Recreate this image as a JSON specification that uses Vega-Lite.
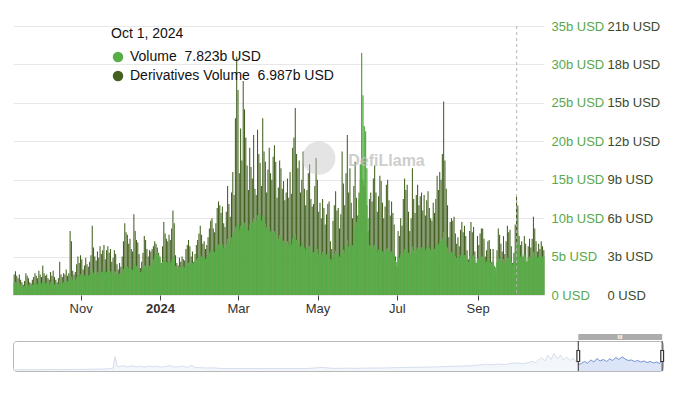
{
  "$schema": "https://vega.github.io/schema/vega-lite/v6.json",
  "padding": {"left": 10, "top": 20, "right": 4, "bottom": 4},
  "spacing": 18,
  "config": {
    "font": "Liberation Sans",
    "view": {"stroke": null},
    "axis": {"labelFont": "Liberation Sans"}
  },
  "datasets": {
    "main": [
      {"date":"2023-09-10","volume":1.6,"derivatives":1.6},{"date":"2023-09-11","volume":1.7,"derivatives":1.85},{"date":"2023-09-12","volume":1.5,"derivatives":1.5},{"date":"2023-09-13","volume":1.4,"derivatives":1.3},{"date":"2023-09-14","volume":1.6,"derivatives":1.6},{"date":"2023-09-15","volume":1.3,"derivatives":1.2},{"date":"2023-09-16","volume":1.1,"derivatives":1.0},{"date":"2023-09-17","volume":1.0,"derivatives":0.8},{"date":"2023-09-18","volume":1.2,"derivatives":1.1},{"date":"2023-09-19","volume":1.6,"derivatives":1.7},{"date":"2023-09-20","volume":1.5,"derivatives":1.5},{"date":"2023-09-21","volume":1.3,"derivatives":1.3},{"date":"2023-09-22","volume":1.1,"derivatives":1.0},{"date":"2023-09-23","volume":1.0,"derivatives":0.9},{"date":"2023-09-24","volume":1.3,"derivatives":1.2},{"date":"2023-09-25","volume":1.4,"derivatives":1.4},{"date":"2023-09-26","volume":1.6,"derivatives":1.7},{"date":"2023-09-27","volume":1.5,"derivatives":1.5},{"date":"2023-09-28","volume":1.4,"derivatives":1.3},{"date":"2023-09-29","volume":1.7,"derivatives":1.9},{"date":"2023-09-30","volume":1.6,"derivatives":1.6},
      {"date":"2023-10-01","volume":1.5,"derivatives":1.4},{"date":"2023-10-02","volume":1.9,"derivatives":2.3},{"date":"2023-10-03","volume":1.6,"derivatives":1.7},{"date":"2023-10-04","volume":1.5,"derivatives":1.5},{"date":"2023-10-05","volume":1.6,"derivatives":1.6},{"date":"2023-10-06","volume":1.4,"derivatives":1.3},{"date":"2023-10-07","volume":1.3,"derivatives":1.2},{"date":"2023-10-08","volume":1.7,"derivatives":1.8},{"date":"2023-10-09","volume":1.5,"derivatives":1.5},{"date":"2023-10-10","volume":1.7,"derivatives":1.9},{"date":"2023-10-11","volume":1.4,"derivatives":1.4},{"date":"2023-10-12","volume":1.3,"derivatives":1.2},{"date":"2023-10-13","volume":1.2,"derivatives":1.0},{"date":"2023-10-14","volume":1.4,"derivatives":1.3},{"date":"2023-10-15","volume":2.0,"derivatives":2.6},{"date":"2023-10-16","volume":1.6,"derivatives":1.6},{"date":"2023-10-17","volume":1.5,"derivatives":1.4},{"date":"2023-10-18","volume":1.7,"derivatives":1.7},{"date":"2023-10-19","volume":1.7,"derivatives":1.6},{"date":"2023-10-20","volume":1.9,"derivatives":2.0},{"date":"2023-10-21","volume":1.8,"derivatives":1.5},{"date":"2023-10-22","volume":1.9,"derivatives":1.7},{"date":"2023-10-23","volume":2.6,"derivatives":5.0},{"date":"2023-10-24","volume":2.4,"derivatives":4.2},{"date":"2023-10-25","volume":2.0,"derivatives":1.9},{"date":"2023-10-26","volume":1.9,"derivatives":1.6},{"date":"2023-10-27","volume":2.0,"derivatives":1.8},{"date":"2023-10-28","volume":2.3,"derivatives":2.4},{"date":"2023-10-29","volume":2.6,"derivatives":3.0},{"date":"2023-10-30","volume":2.4,"derivatives":2.5},{"date":"2023-10-31","volume":2.7,"derivatives":3.1},
      {"date":"2023-11-01","volume":2.6,"derivatives":2.8},{"date":"2023-11-02","volume":2.3,"derivatives":2.0},{"date":"2023-11-03","volume":2.5,"derivatives":2.3},{"date":"2023-11-04","volume":2.7,"derivatives":2.9},{"date":"2023-11-05","volume":2.6,"derivatives":2.4},{"date":"2023-11-06","volume":2.5,"derivatives":2.2},{"date":"2023-11-07","volume":2.6,"derivatives":2.6},{"date":"2023-11-08","volume":2.8,"derivatives":3.1},{"date":"2023-11-09","volume":3.3,"derivatives":5.4},{"date":"2023-11-10","volume":2.9,"derivatives":3.7},{"date":"2023-11-11","volume":2.8,"derivatives":3.0},{"date":"2023-11-12","volume":2.7,"derivatives":2.7},{"date":"2023-11-13","volume":3.0,"derivatives":3.4},{"date":"2023-11-14","volume":2.8,"derivatives":2.9},{"date":"2023-11-15","volume":3.2,"derivatives":3.8},{"date":"2023-11-16","volume":3.0,"derivatives":3.2},{"date":"2023-11-17","volume":3.1,"derivatives":3.5},{"date":"2023-11-18","volume":3.3,"derivatives":3.9},{"date":"2023-11-19","volume":2.9,"derivatives":2.8},{"date":"2023-11-20","volume":3.0,"derivatives":3.5},{"date":"2023-11-21","volume":3.2,"derivatives":3.8},{"date":"2023-11-22","volume":3.0,"derivatives":3.3},{"date":"2023-11-23","volume":3.1,"derivatives":3.6},{"date":"2023-11-24","volume":2.8,"derivatives":2.6},{"date":"2023-11-25","volume":2.9,"derivatives":2.9},{"date":"2023-11-26","volume":3.1,"derivatives":3.5},{"date":"2023-11-27","volume":3.0,"derivatives":3.2},{"date":"2023-11-28","volume":2.7,"derivatives":2.4},{"date":"2023-11-29","volume":2.6,"derivatives":2.0},{"date":"2023-11-30","volume":2.8,"derivatives":2.5},
      {"date":"2023-12-01","volume":2.8,"derivatives":2.2},{"date":"2023-12-02","volume":3.0,"derivatives":3.0},{"date":"2023-12-03","volume":3.4,"derivatives":4.2},{"date":"2023-12-04","volume":3.8,"derivatives":5.6},{"date":"2023-12-05","volume":3.6,"derivatives":4.9},{"date":"2023-12-06","volume":3.7,"derivatives":4.7},{"date":"2023-12-07","volume":3.5,"derivatives":4.0},{"date":"2023-12-08","volume":3.6,"derivatives":4.4},{"date":"2023-12-09","volume":3.4,"derivatives":3.6},{"date":"2023-12-10","volume":3.3,"derivatives":3.4},{"date":"2023-12-11","volume":4.3,"derivatives":6.3},{"date":"2023-12-12","volume":4.0,"derivatives":5.0},{"date":"2023-12-13","volume":3.8,"derivatives":4.3},{"date":"2023-12-14","volume":3.7,"derivatives":4.1},{"date":"2023-12-15","volume":3.4,"derivatives":3.2},{"date":"2023-12-16","volume":3.0,"derivatives":2.1},{"date":"2023-12-17","volume":3.1,"derivatives":2.6},{"date":"2023-12-18","volume":3.4,"derivatives":3.3},{"date":"2023-12-19","volume":3.9,"derivatives":4.6},{"date":"2023-12-20","volume":3.8,"derivatives":4.3},{"date":"2023-12-21","volume":3.6,"derivatives":3.6},{"date":"2023-12-22","volume":3.5,"derivatives":3.0},{"date":"2023-12-23","volume":3.8,"derivatives":3.5},{"date":"2023-12-24","volume":3.9,"derivatives":3.4},{"date":"2023-12-25","volume":4.2,"derivatives":3.6},{"date":"2023-12-26","volume":4.6,"derivatives":3.8},{"date":"2023-12-27","volume":5.0,"derivatives":4.2},{"date":"2023-12-28","volume":5.3,"derivatives":4.0},{"date":"2023-12-29","volume":5.6,"derivatives":3.7},{"date":"2023-12-30","volume":5.2,"derivatives":3.3},{"date":"2023-12-31","volume":4.8,"derivatives":3.0},
      {"date":"2024-01-01","volume":4.0,"derivatives":2.5},{"date":"2024-01-02","volume":4.3,"derivatives":3.8},{"date":"2024-01-03","volume":4.8,"derivatives":5.7},{"date":"2024-01-04","volume":4.5,"derivatives":4.8},{"date":"2024-01-05","volume":4.3,"derivatives":4.4},{"date":"2024-01-06","volume":4.2,"derivatives":4.2},{"date":"2024-01-07","volume":4.4,"derivatives":4.7},{"date":"2024-01-08","volume":4.2,"derivatives":4.3},{"date":"2024-01-09","volume":4.5,"derivatives":5.2},{"date":"2024-01-10","volume":5.0,"derivatives":6.6},{"date":"2024-01-11","volume":4.7,"derivatives":5.6},{"date":"2024-01-12","volume":3.8,"derivatives":3.1},{"date":"2024-01-13","volume":3.5,"derivatives":2.5},{"date":"2024-01-14","volume":3.5,"derivatives":2.3},{"date":"2024-01-15","volume":3.7,"derivatives":2.9},{"date":"2024-01-16","volume":3.6,"derivatives":2.6},{"date":"2024-01-17","volume":3.8,"derivatives":3.0},{"date":"2024-01-18","volume":3.7,"derivatives":2.8},{"date":"2024-01-19","volume":3.6,"derivatives":2.7},{"date":"2024-01-20","volume":3.9,"derivatives":3.6},{"date":"2024-01-21","volume":4.1,"derivatives":3.9},{"date":"2024-01-22","volume":4.2,"derivatives":4.3},{"date":"2024-01-23","volume":4.1,"derivatives":3.8},{"date":"2024-01-24","volume":3.9,"derivatives":3.0},{"date":"2024-01-25","volume":4.2,"derivatives":3.4},{"date":"2024-01-26","volume":4.0,"derivatives":2.6},{"date":"2024-01-27","volume":4.4,"derivatives":3.2},{"date":"2024-01-28","volume":4.6,"derivatives":3.9},{"date":"2024-01-29","volume":4.8,"derivatives":4.3},{"date":"2024-01-30","volume":5.0,"derivatives":4.8},{"date":"2024-01-31","volume":5.3,"derivatives":5.4},
      {"date":"2024-02-01","volume":5.0,"derivatives":4.7},{"date":"2024-02-02","volume":4.8,"derivatives":4.0},{"date":"2024-02-03","volume":4.9,"derivatives":4.2},{"date":"2024-02-04","volume":4.7,"derivatives":3.6},{"date":"2024-02-05","volume":4.9,"derivatives":3.9},{"date":"2024-02-06","volume":5.2,"derivatives":4.5},{"date":"2024-02-07","volume":5.5,"derivatives":5.2},{"date":"2024-02-08","volume":5.8,"derivatives":5.8},{"date":"2024-02-09","volume":6.0,"derivatives":6.0},{"date":"2024-02-10","volume":5.7,"derivatives":5.2},{"date":"2024-02-11","volume":5.6,"derivatives":4.9},{"date":"2024-02-12","volume":5.9,"derivatives":5.6},{"date":"2024-02-13","volume":6.4,"derivatives":6.8},{"date":"2024-02-14","volume":6.6,"derivatives":7.3},{"date":"2024-02-15","volume":6.5,"derivatives":7.0},{"date":"2024-02-16","volume":6.3,"derivatives":6.4},{"date":"2024-02-17","volume":6.6,"derivatives":6.9},{"date":"2024-02-18","volume":6.1,"derivatives":5.6},{"date":"2024-02-19","volume":6.0,"derivatives":5.3},{"date":"2024-02-20","volume":6.6,"derivatives":6.5},{"date":"2024-02-21","volume":7.3,"derivatives":8.5},{"date":"2024-02-22","volume":7.0,"derivatives":7.1},{"date":"2024-02-23","volume":6.8,"derivatives":6.1},{"date":"2024-02-24","volume":7.5,"derivatives":8.0},{"date":"2024-02-25","volume":8.0,"derivatives":9.6},{"date":"2024-02-26","volume":7.8,"derivatives":7.8},{"date":"2024-02-27","volume":8.8,"derivatives":13.8},{"date":"2024-02-28","volume":9.0,"derivatives":18.6},{"date":"2024-02-29","volume":9.3,"derivatives":16.0},
      {"date":"2024-03-01","volume":8.5,"derivatives":9.5},{"date":"2024-03-02","volume":9.0,"derivatives":13.0},{"date":"2024-03-03","volume":8.7,"derivatives":10.5},{"date":"2024-03-04","volume":9.6,"derivatives":16.7},{"date":"2024-03-05","volume":9.4,"derivatives":14.5},{"date":"2024-03-06","volume":9.0,"derivatives":12.3},{"date":"2024-03-07","volume":8.7,"derivatives":10.1},{"date":"2024-03-08","volume":8.4,"derivatives":8.2},{"date":"2024-03-09","volume":9.2,"derivatives":11.5},{"date":"2024-03-10","volume":9.3,"derivatives":10.0},{"date":"2024-03-11","volume":9.5,"derivatives":9.1},{"date":"2024-03-12","volume":10.0,"derivatives":12.5},{"date":"2024-03-13","volume":9.4,"derivatives":8.3},{"date":"2024-03-14","volume":9.6,"derivatives":7.8},{"date":"2024-03-15","volume":10.4,"derivatives":12.9},{"date":"2024-03-16","volume":10.6,"derivatives":11.0},{"date":"2024-03-17","volume":10.2,"derivatives":10.3},{"date":"2024-03-18","volume":9.7,"derivatives":8.5},{"date":"2024-03-19","volume":10.3,"derivatives":13.8},{"date":"2024-03-20","volume":9.8,"derivatives":11.2},{"date":"2024-03-21","volume":9.3,"derivatives":10.4},{"date":"2024-03-22","volume":8.8,"derivatives":8.0},{"date":"2024-03-23","volume":8.6,"derivatives":9.8},{"date":"2024-03-24","volume":8.9,"derivatives":11.5},{"date":"2024-03-25","volume":8.3,"derivatives":9.5},{"date":"2024-03-26","volume":8.0,"derivatives":9.0},{"date":"2024-03-27","volume":8.2,"derivatives":10.8},{"date":"2024-03-28","volume":8.3,"derivatives":11.7},{"date":"2024-03-29","volume":7.9,"derivatives":10.4},{"date":"2024-03-30","volume":7.2,"derivatives":7.6},{"date":"2024-03-31","volume":7.4,"derivatives":8.4},
      {"date":"2024-04-01","volume":7.8,"derivatives":10.5},{"date":"2024-04-02","volume":7.5,"derivatives":9.9},{"date":"2024-04-03","volume":7.0,"derivatives":8.3},{"date":"2024-04-04","volume":7.1,"derivatives":8.9},{"date":"2024-04-05","volume":6.6,"derivatives":7.4},{"date":"2024-04-06","volume":6.8,"derivatives":8.0},{"date":"2024-04-07","volume":7.0,"derivatives":9.1},{"date":"2024-04-08","volume":6.5,"derivatives":7.6},{"date":"2024-04-09","volume":7.0,"derivatives":9.6},{"date":"2024-04-10","volume":6.6,"derivatives":7.9},{"date":"2024-04-11","volume":7.4,"derivatives":11.5},{"date":"2024-04-12","volume":7.6,"derivatives":12.3},{"date":"2024-04-13","volume":8.0,"derivatives":14.6},{"date":"2024-04-14","volume":7.2,"derivatives":11.0},{"date":"2024-04-15","volume":6.9,"derivatives":9.9},{"date":"2024-04-16","volume":7.0,"derivatives":10.5},{"date":"2024-04-17","volume":6.3,"derivatives":8.0},{"date":"2024-04-18","volume":6.5,"derivatives":9.0},{"date":"2024-04-19","volume":6.9,"derivatives":11.2},{"date":"2024-04-20","volume":6.2,"derivatives":8.3},{"date":"2024-04-21","volume":5.9,"derivatives":7.0},{"date":"2024-04-22","volume":6.1,"derivatives":8.2},{"date":"2024-04-23","volume":6.3,"derivatives":9.5},{"date":"2024-04-24","volume":6.4,"derivatives":10.2},{"date":"2024-04-25","volume":5.7,"derivatives":7.5},{"date":"2024-04-26","volume":5.5,"derivatives":6.9},{"date":"2024-04-27","volume":5.6,"derivatives":7.1},{"date":"2024-04-28","volume":5.8,"derivatives":8.5},{"date":"2024-04-29","volume":6.3,"derivatives":10.7},{"date":"2024-04-30","volume":6.0,"derivatives":9.0},
      {"date":"2024-05-01","volume":5.4,"derivatives":6.5},{"date":"2024-05-02","volume":5.5,"derivatives":7.2},{"date":"2024-05-03","volume":5.2,"derivatives":6.0},{"date":"2024-05-04","volume":5.6,"derivatives":7.5},{"date":"2024-05-05","volume":5.4,"derivatives":6.8},{"date":"2024-05-06","volume":5.0,"derivatives":5.5},{"date":"2024-05-07","volume":5.3,"derivatives":6.3},{"date":"2024-05-08","volume":5.5,"derivatives":7.1},{"date":"2024-05-09","volume":5.6,"derivatives":7.3},{"date":"2024-05-10","volume":4.7,"derivatives":4.2},{"date":"2024-05-11","volume":4.5,"derivatives":3.6},{"date":"2024-05-12","volume":5.0,"derivatives":5.8},{"date":"2024-05-13","volume":5.4,"derivatives":7.0},{"date":"2024-05-14","volume":5.8,"derivatives":8.1},{"date":"2024-05-15","volume":5.3,"derivatives":6.6},{"date":"2024-05-16","volume":5.4,"derivatives":6.8},{"date":"2024-05-17","volume":5.0,"derivatives":5.2},{"date":"2024-05-18","volume":5.2,"derivatives":6.3},{"date":"2024-05-19","volume":6.4,"derivatives":11.2},{"date":"2024-05-20","volume":5.9,"derivatives":8.7},{"date":"2024-05-21","volume":5.6,"derivatives":7.0},{"date":"2024-05-22","volume":6.2,"derivatives":9.5},{"date":"2024-05-23","volume":7.2,"derivatives":12.5},{"date":"2024-05-24","volume":6.3,"derivatives":8.0},{"date":"2024-05-25","volume":6.8,"derivatives":9.9},{"date":"2024-05-26","volume":6.4,"derivatives":7.2},{"date":"2024-05-27","volume":6.5,"derivatives":6.0},{"date":"2024-05-28","volume":7.6,"derivatives":8.5},{"date":"2024-05-29","volume":8.8,"derivatives":10.4},{"date":"2024-05-30","volume":9.5,"derivatives":7.6},{"date":"2024-05-31","volume":10.0,"derivatives":6.2},
      {"date":"2024-06-01","volume":12.5,"derivatives":8.0},{"date":"2024-06-02","volume":17.0,"derivatives":9.0},{"date":"2024-06-03","volume":31.5,"derivatives":10.0},{"date":"2024-06-04","volume":26.0,"derivatives":9.0},{"date":"2024-06-05","volume":22.0,"derivatives":8.5},{"date":"2024-06-06","volume":21.3,"derivatives":8.0},{"date":"2024-06-07","volume":16.5,"derivatives":7.0},{"date":"2024-06-08","volume":10.0,"derivatives":5.0},{"date":"2024-06-09","volume":6.5,"derivatives":7.5},{"date":"2024-06-10","volume":6.4,"derivatives":8.0},{"date":"2024-06-11","volume":6.0,"derivatives":7.3},{"date":"2024-06-12","volume":6.4,"derivatives":9.1},{"date":"2024-06-13","volume":6.6,"derivatives":10.1},{"date":"2024-06-14","volume":6.0,"derivatives":8.0},{"date":"2024-06-15","volume":5.6,"derivatives":6.5},{"date":"2024-06-16","volume":5.9,"derivatives":7.7},{"date":"2024-06-17","volume":6.2,"derivatives":9.3},{"date":"2024-06-18","volume":6.1,"derivatives":8.9},{"date":"2024-06-19","volume":5.7,"derivatives":7.2},{"date":"2024-06-20","volume":5.4,"derivatives":6.0},{"date":"2024-06-21","volume":5.6,"derivatives":6.9},{"date":"2024-06-22","volume":6.0,"derivatives":8.6},{"date":"2024-06-23","volume":6.1,"derivatives":9.0},{"date":"2024-06-24","volume":5.8,"derivatives":7.4},{"date":"2024-06-25","volume":5.5,"derivatives":6.2},{"date":"2024-06-26","volume":5.7,"derivatives":7.3},{"date":"2024-06-27","volume":5.5,"derivatives":6.4},{"date":"2024-06-28","volume":5.2,"derivatives":5.5},{"date":"2024-06-29","volume":4.5,"derivatives":3.0},{"date":"2024-06-30","volume":4.3,"derivatives":2.2},
      {"date":"2024-07-01","volume":5.0,"derivatives":5.0},{"date":"2024-07-02","volume":4.9,"derivatives":4.6},{"date":"2024-07-03","volume":5.3,"derivatives":6.0},{"date":"2024-07-04","volume":5.2,"derivatives":5.4},{"date":"2024-07-05","volume":5.6,"derivatives":7.5},{"date":"2024-07-06","volume":6.0,"derivatives":9.1},{"date":"2024-07-07","volume":5.9,"derivatives":8.2},{"date":"2024-07-08","volume":6.0,"derivatives":8.6},{"date":"2024-07-09","volume":5.5,"derivatives":6.5},{"date":"2024-07-10","volume":5.2,"derivatives":5.0},{"date":"2024-07-11","volume":5.4,"derivatives":6.0},{"date":"2024-07-12","volume":6.3,"derivatives":9.9},{"date":"2024-07-13","volume":5.8,"derivatives":7.5},{"date":"2024-07-14","volume":5.6,"derivatives":6.4},{"date":"2024-07-15","volume":6.0,"derivatives":7.8},{"date":"2024-07-16","volume":6.2,"derivatives":8.6},{"date":"2024-07-17","volume":5.9,"derivatives":7.0},{"date":"2024-07-18","volume":6.1,"derivatives":7.7},{"date":"2024-07-19","volume":6.2,"derivatives":8.0},{"date":"2024-07-20","volume":5.9,"derivatives":6.6},{"date":"2024-07-21","volume":6.3,"derivatives":7.8},{"date":"2024-07-22","volume":5.9,"derivatives":6.2},{"date":"2024-07-23","volume":6.2,"derivatives":7.4},{"date":"2024-07-24","volume":6.4,"derivatives":8.1},{"date":"2024-07-25","volume":6.1,"derivatives":6.8},{"date":"2024-07-26","volume":5.9,"derivatives":6.0},{"date":"2024-07-27","volume":5.8,"derivatives":5.8},{"date":"2024-07-28","volume":6.2,"derivatives":7.2},{"date":"2024-07-29","volume":6.0,"derivatives":6.4},{"date":"2024-07-30","volume":6.4,"derivatives":7.5},{"date":"2024-07-31","volume":6.8,"derivatives":9.3},
      {"date":"2024-08-01","volume":6.6,"derivatives":8.2},{"date":"2024-08-02","volume":7.0,"derivatives":9.6},{"date":"2024-08-03","volume":7.0,"derivatives":9.0},{"date":"2024-08-04","volume":7.4,"derivatives":11.0},{"date":"2024-08-05","volume":8.2,"derivatives":15.1},{"date":"2024-08-06","volume":7.2,"derivatives":10.5},{"date":"2024-08-07","volume":6.6,"derivatives":8.3},{"date":"2024-08-08","volume":6.2,"derivatives":7.0},{"date":"2024-08-09","volume":5.4,"derivatives":4.5},{"date":"2024-08-10","volume":5.6,"derivatives":5.7},{"date":"2024-08-11","volume":5.6,"derivatives":6.0},{"date":"2024-08-12","volume":5.5,"derivatives":5.8},{"date":"2024-08-13","volume":5.6,"derivatives":6.1},{"date":"2024-08-14","volume":5.1,"derivatives":4.8},{"date":"2024-08-15","volume":4.8,"derivatives":4.0},{"date":"2024-08-16","volume":5.0,"derivatives":4.5},{"date":"2024-08-17","volume":4.8,"derivatives":3.8},{"date":"2024-08-18","volume":5.2,"derivatives":5.1},{"date":"2024-08-19","volume":5.4,"derivatives":5.7},{"date":"2024-08-20","volume":5.1,"derivatives":4.9},{"date":"2024-08-21","volume":5.2,"derivatives":5.4},{"date":"2024-08-22","volume":5.0,"derivatives":4.6},{"date":"2024-08-23","volume":4.6,"derivatives":3.5},{"date":"2024-08-24","volume":4.3,"derivatives":2.8},{"date":"2024-08-25","volume":5.1,"derivatives":5.0},{"date":"2024-08-26","volume":5.3,"derivatives":5.7},{"date":"2024-08-27","volume":5.0,"derivatives":4.9},{"date":"2024-08-28","volume":5.2,"derivatives":5.3},{"date":"2024-08-29","volume":4.5,"derivatives":3.4},{"date":"2024-08-30","volume":4.2,"derivatives":2.5},{"date":"2024-08-31","volume":4.8,"derivatives":4.6},
      {"date":"2024-09-01","volume":4.6,"derivatives":3.9},{"date":"2024-09-02","volume":4.9,"derivatives":4.8},{"date":"2024-09-03","volume":5.0,"derivatives":5.2},{"date":"2024-09-04","volume":5.0,"derivatives":5.2},{"date":"2024-09-05","volume":4.7,"derivatives":4.4},{"date":"2024-09-06","volume":4.2,"derivatives":3.0},{"date":"2024-09-07","volume":4.4,"derivatives":3.5},{"date":"2024-09-08","volume":4.6,"derivatives":4.2},{"date":"2024-09-09","volume":4.6,"derivatives":4.3},{"date":"2024-09-10","volume":4.3,"derivatives":3.6},{"date":"2024-09-11","volume":4.0,"derivatives":2.6},{"date":"2024-09-12","volume":4.3,"derivatives":3.6},{"date":"2024-09-13","volume":3.8,"derivatives":2.0},{"date":"2024-09-14","volume":3.6,"derivatives":1.6},{"date":"2024-09-15","volume":4.3,"derivatives":3.5},{"date":"2024-09-16","volume":4.9,"derivatives":5.2},{"date":"2024-09-17","volume":4.7,"derivatives":4.7},{"date":"2024-09-18","volume":4.5,"derivatives":4.0},{"date":"2024-09-19","volume":4.3,"derivatives":3.4},{"date":"2024-09-20","volume":4.7,"derivatives":4.6},{"date":"2024-09-21","volume":4.2,"derivatives":3.2},{"date":"2024-09-22","volume":4.5,"derivatives":4.2},{"date":"2024-09-23","volume":4.9,"derivatives":5.4},{"date":"2024-09-24","volume":4.8,"derivatives":4.9},{"date":"2024-09-25","volume":4.9,"derivatives":5.1},{"date":"2024-09-26","volume":4.4,"derivatives":3.8},{"date":"2024-09-27","volume":4.0,"derivatives":2.5},{"date":"2024-09-28","volume":4.3,"derivatives":3.3},{"date":"2024-09-29","volume":5.5,"derivatives":5.5},{"date":"2024-09-30","volume":6.8,"derivatives":7.7},
      {"date":"2024-10-01","volume":7.823,"derivatives":6.987},{"date":"2024-10-02","volume":5.6,"derivatives":4.6},{"date":"2024-10-03","volume":5.0,"derivatives":3.9},{"date":"2024-10-04","volume":5.2,"derivatives":4.2},{"date":"2024-10-05","volume":4.6,"derivatives":3.0},{"date":"2024-10-06","volume":5.3,"derivatives":4.6},{"date":"2024-10-07","volume":5.0,"derivatives":4.0},{"date":"2024-10-08","volume":4.4,"derivatives":2.6},{"date":"2024-10-09","volume":4.8,"derivatives":3.8},{"date":"2024-10-10","volume":5.0,"derivatives":4.4},{"date":"2024-10-11","volume":4.7,"derivatives":3.7},{"date":"2024-10-12","volume":5.0,"derivatives":4.4},{"date":"2024-10-13","volume":5.6,"derivatives":6.1},{"date":"2024-10-14","volume":5.4,"derivatives":5.2},{"date":"2024-10-15","volume":5.0,"derivatives":4.2},{"date":"2024-10-16","volume":4.8,"derivatives":3.4},{"date":"2024-10-17","volume":5.0,"derivatives":4.0},{"date":"2024-10-18","volume":4.9,"derivatives":3.6},{"date":"2024-10-19","volume":5.1,"derivatives":4.2},{"date":"2024-10-20","volume":5.0,"derivatives":3.8},{"date":"2024-10-21","volume":5.0,"derivatives":3.5}
    ],
    "history": [
      {"date":"2016-03-01","value":1.2},{"date":"2016-05-01","value":1.4},{"date":"2016-07-01","value":1.3},{"date":"2016-09-01","value":1.5},{"date":"2016-11-01","value":1.4},{"date":"2017-01-01","value":1.6},{"date":"2017-03-01","value":1.7},{"date":"2017-05-01","value":1.9},{"date":"2017-06-15","value":2.3},{"date":"2017-07-01","value":3.0},{"date":"2017-07-10","value":14.5},{"date":"2017-07-20","value":5.0},{"date":"2017-08-01","value":4.2},{"date":"2017-08-20","value":5.5},{"date":"2017-09-10","value":4.0},{"date":"2017-10-01","value":5.2},{"date":"2017-10-20","value":4.1},{"date":"2017-11-10","value":4.8},{"date":"2017-12-01","value":3.9},{"date":"2017-12-20","value":5.0},{"date":"2018-01-10","value":4.2},{"date":"2018-02-01","value":4.8},{"date":"2018-02-20","value":3.8},{"date":"2018-03-15","value":4.6},{"date":"2018-04-05","value":5.4},{"date":"2018-04-25","value":4.0},{"date":"2018-05-15","value":4.3},{"date":"2018-06-05","value":5.0},{"date":"2018-06-25","value":3.6},{"date":"2018-07-15","value":5.6},{"date":"2018-08-05","value":3.5},{"date":"2018-09-01","value":3.3},{"date":"2018-10-01","value":3.0},{"date":"2018-11-01","value":3.2},{"date":"2018-12-01","value":2.6},{"date":"2019-02-01","value":2.4},{"date":"2019-04-01","value":2.5},{"date":"2019-06-01","value":2.3},{"date":"2019-08-01","value":2.5},{"date":"2019-10-01","value":2.4},{"date":"2019-12-01","value":2.6},{"date":"2020-02-01","value":2.5},{"date":"2020-04-15","value":3.6},{"date":"2020-06-01","value":2.6},{"date":"2020-08-01","value":2.8},{"date":"2020-10-01","value":2.7},{"date":"2020-12-01","value":3.0},{"date":"2021-02-01","value":3.0},{"date":"2021-04-01","value":3.3},{"date":"2021-06-01","value":3.6},{"date":"2021-08-01","value":3.8},{"date":"2021-10-01","value":4.0},{"date":"2021-12-01","value":4.4},{"date":"2022-02-01","value":4.8},{"date":"2022-04-01","value":5.2},{"date":"2022-05-15","value":6.0},{"date":"2022-06-15","value":6.8},{"date":"2022-07-15","value":6.2},{"date":"2022-08-15","value":7.0},{"date":"2022-09-15","value":6.5},{"date":"2022-10-15","value":7.4},{"date":"2022-11-15","value":8.2},{"date":"2022-12-15","value":7.2},{"date":"2023-01-15","value":8.6},{"date":"2023-02-01","value":9.5},{"date":"2023-02-15","value":8.4},{"date":"2023-03-01","value":11.0},{"date":"2023-03-15","value":13.5},{"date":"2023-04-01","value":10.2},{"date":"2023-04-15","value":15.8},{"date":"2023-05-01","value":11.5},{"date":"2023-05-15","value":17.5},{"date":"2023-06-01","value":12.0},{"date":"2023-06-15","value":16.0},{"date":"2023-07-01","value":11.0},{"date":"2023-07-15","value":14.0},{"date":"2023-08-01","value":10.5},{"date":"2023-08-15","value":13.0},{"date":"2023-09-01","value":9.0},{"date":"2023-09-10","value":6.5},{"date":"2023-09-25","value":7.5},{"date":"2023-10-10","value":9.5},{"date":"2023-10-25","value":7.8},{"date":"2023-11-10","value":11.0},{"date":"2023-11-25","value":9.0},{"date":"2023-12-10","value":12.5},{"date":"2023-12-25","value":10.0},{"date":"2024-01-10","value":11.5},{"date":"2024-01-25","value":9.5},{"date":"2024-02-10","value":12.0},{"date":"2024-02-25","value":10.5},{"date":"2024-03-10","value":13.5},{"date":"2024-03-25","value":11.5},{"date":"2024-04-10","value":14.0},{"date":"2024-04-25","value":12.0},{"date":"2024-05-10","value":10.5},{"date":"2024-05-25","value":11.0},{"date":"2024-06-10","value":9.5},{"date":"2024-06-25","value":10.5},{"date":"2024-07-10","value":9.0},{"date":"2024-07-25","value":10.0},{"date":"2024-08-10","value":8.5},{"date":"2024-08-25","value":9.5},{"date":"2024-09-10","value":8.0},{"date":"2024-09-25","value":9.0},{"date":"2024-10-10","value":7.5},{"date":"2024-10-21","value":10.5}
    ],
    "handles": [{"date":"2023-09-10"},{"date":"2024-10-22"}],
    "window": [{"start":"2023-09-10","end":"2024-10-22","mid":"2024-03-31"}],
    "marker": [{"date":"2024-10-01"}],
    "brand": [{"name":"DefiLlama"}]
  },
  "vconcat": [
    {
      "width": 531,
      "height": 269,
      "data": {"name": "main"},
      "layer": [
        {
          "mark": {"type": "bar", "binSpacing": 0.25},
          "encoding": {
            "x": {
              "field": "date", "timeUnit": "utcyearmonthdate", "type": "temporal", "title": null,
              "scale": {"type": "utc", "nice": false, "domain": [{"year":2023,"month":9,"date":10,"utc":true},{"year":2024,"month":10,"date":22,"utc":true}]},
              "axis": {
                "tickCount": {"interval": "month", "step": 2},
                "labelExpr": "utcmonth(datum.value) == 0 ? utcFormat(datum.value, '%Y') : utcFormat(datum.value, '%b')",
                "labelFontWeight": {"condition": {"test": "utcmonth(datum.value) == 0", "value": "bold"}, "value": "normal"},
                "labelFontSize": 13, "labelColor": "#333333", "labelPadding": 2,
                "domain": false, "grid": false, "ticks": true, "tickSize": 5, "tickColor": "#444444", "labelFlush": false
              }
            },
            "y": {
              "field": "derivatives", "type": "quantitative", "title": null,
              "scale": {"domain": [0, 21], "nice": false},
              "axis": {
                "orient": "right", "offset": 56, "values": [0,3,6,9,12,15,18,21],
                "labelExpr": "datum.value == 0 ? '0 USD' : datum.value + 'b USD'",
                "grid": false, "domain": false, "ticks": false, "labelPadding": 7, "labelOverlap": false,
                "labelFontSize": 13, "labelColor": "#3c4a2c", "labelFlush": false
              }
            },
            "color": {
              "datum": "Derivatives Volume",
              "scale": {"domain": ["Volume", "Derivatives Volume"], "range": ["#57ad46", "#42611f"]},
              "legend": {
                "title": "Oct 1, 2024", "orient": "none", "legendX": 98, "legendY": 1,
                "symbolType": "circle", "symbolSize": 110, "symbolStrokeWidth": 0, "symbolOpacity": 1,
                "titleFontSize": 14, "titleFontWeight": "normal", "titleColor": "#111111", "titlePadding": 9,
                "labelFontSize": 14, "labelColor": "#111111", "labelOffset": 5, "rowPadding": 5, "labelLimit": 400,
                "labelExpr": "datum.label == 'Volume' ? 'Volume\u00a0\u00a07.823b USD' : 'Derivatives Volume\u00a0\u00a06.987b USD'"
              }
            }
          }
        },
        {
          "mark": {"type": "bar", "binSpacing": 0},
          "encoding": {
            "x": {"field": "date", "timeUnit": "utcyearmonthdate", "type": "temporal"},
            "y": {
              "field": "volume", "type": "quantitative", "title": null,
              "scale": {"domain": [0, 35], "nice": false},
              "axis": {
                "orient": "right", "values": [0,5,10,15,20,25,30,35],
                "labelExpr": "datum.value == 0 ? '0 USD' : datum.value + 'b USD'",
                "grid": true, "gridColor": "#e8e8e8", "gridWidth": 1, "labelOverlap": false,
                "domain": false, "ticks": false, "labelPadding": 7,
                "labelFontSize": 13, "labelColor": "#58a84c", "labelFlush": false
              }
            },
            "color": {"datum": "Volume"}
          }
        },
        {
          "data": {"name": "brand"},
          "mark": {"type": "point", "shape": "circle", "filled": true, "size": 1100, "color": "#c4c4c4", "opacity": 0.45},
          "encoding": {
            "x": {"datum": {"year":2024,"month":5,"date":2,"utc":true}, "type": "temporal"},
            "y": {"datum": 17.8, "type": "quantitative", "axis": null, "scale": {"domain": [0, 35], "nice": false}}
          }
        },
        {
          "data": {"name": "brand"},
          "mark": {"type": "text", "fontSize": 16, "fontWeight": "bold", "color": "#bdbdbd", "opacity": 0.75, "align": "center", "baseline": "middle"},
          "encoding": {
            "x": {"datum": {"year":2024,"month":6,"date":23,"utc":true}, "type": "temporal"},
            "y": {"datum": 17.4, "type": "quantitative", "axis": null, "scale": {"domain": [0, 35], "nice": false}},
            "text": {"field": "name"}
          }
        },
        {
          "data": {"name": "marker"},
          "mark": {"type": "rule", "color": "#b5b5b5", "strokeDash": [3, 3], "strokeWidth": 1},
          "encoding": {
            "x": {"field": "date", "type": "temporal", "scale": {"type": "utc"}}
          }
        }
      ],
      "resolve": {"scale": {"y": "independent"}, "axis": {"y": "independent"}}
    },
    {
      "width": 650,
      "height": 30,
      "view": {"stroke": "#b8b8b8", "strokeWidth": 1, "cornerRadius": 3},
      "layer": [
        {
          "data": {"name": "history"},
          "mark": {"type": "area", "color": "#eef2fa", "line": {"color": "#cdd6e8", "strokeWidth": 0.8}},
          "encoding": {
            "x": {"field": "date", "type": "temporal", "axis": null, "scale": {"type": "utc", "nice": false, "domain": [{"year":2016,"month":3,"date":1,"utc":true},{"year":2024,"month":10,"date":26,"utc":true}]}},
            "y": {"field": "value", "type": "quantitative", "axis": null, "scale": {"domain": [0, 30], "nice": false}}
          }
        },
        {
          "data": {"name": "history"},
          "transform": [{"filter": "time(datum.date) >= utc(2023, 8, 10)"}],
          "mark": {"type": "area", "color": "#d2def6", "line": {"color": "#7290d0", "strokeWidth": 0.9}},
          "encoding": {
            "x": {"field": "date", "type": "temporal"},
            "y": {"field": "value", "type": "quantitative"}
          }
        },
        {
          "data": {"name": "window"},
          "mark": {"type": "rect", "color": "#acacac"},
          "encoding": {
            "x": {"field": "start", "type": "temporal"},
            "x2": {"field": "end"},
            "y": {"datum": 31, "type": "quantitative"},
            "y2": {"datum": 37}
          }
        },
        {
          "data": {"name": "window"},
          "mark": {"type": "text", "text": "III", "fontSize": 6, "fontWeight": "bold", "color": "#ffffff", "baseline": "middle"},
          "encoding": {
            "x": {"field": "mid", "type": "temporal"},
            "y": {"datum": 34, "type": "quantitative"}
          }
        },
        {
          "data": {"name": "handles"},
          "mark": {"type": "rule", "color": "#333333", "strokeWidth": 1},
          "encoding": {
            "x": {"field": "date", "type": "temporal"}
          }
        },
        {
          "data": {"name": "handles"},
          "mark": {"type": "point", "shape": "M-0.25,-1H0.25V1H-0.25Z", "size": 121, "filled": true, "fill": "#ffffff", "stroke": "#333333", "strokeWidth": 1.2, "opacity": 1},
          "encoding": {
            "x": {"field": "date", "type": "temporal"},
            "y": {"datum": 15, "type": "quantitative"}
          }
        }
      ]
    }
  ]
}
